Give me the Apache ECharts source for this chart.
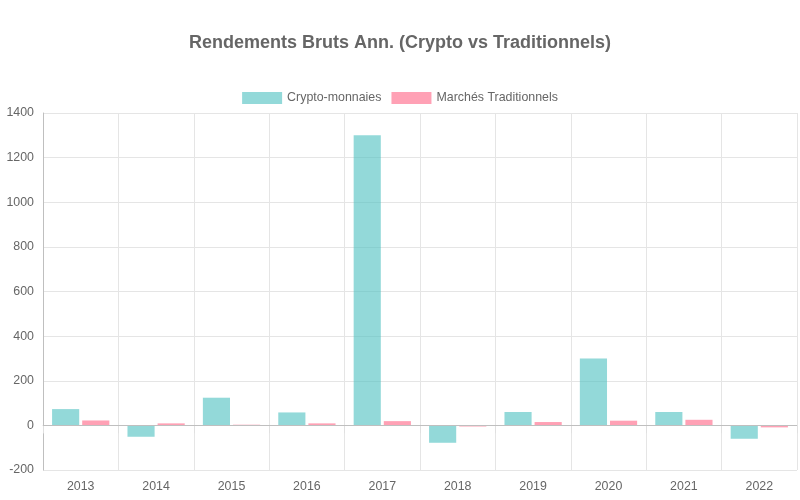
<!DOCTYPE html>
<html><head><meta charset="utf-8">
<script src="https://cdn.jsdelivr.net/npm/echarts@6/dist/echarts.min.js"></script>
<style>html,body{margin:0;padding:0;background:#fff}#c{width:800px;height:500px}</style>
</head><body><div id="c"></div>
<script>
const categories = ['2013','2014','2015','2016','2017','2018','2019','2020','2021','2022'];
const cryptoValues = [73, -51, 124, 58, 1300, -78, 60, 300, 60, -60];
const tradValues = [22, 9, 3, 9, 19, -5, 15, 21, 25, -9];
const seriesNames = ['Crypto-monnaies', 'Marchés Traditionnels'];
const titleText = 'Rendements Bruts Ann. (Crypto vs Traditionnels)';

const chart = echarts.init(document.getElementById('c'));
const font = 'Liberation Sans, Arial, Helvetica, sans-serif';
chart.setOption({
  animation: false,
  textStyle: { fontFamily: font },
  title: { text: titleText, left: 'center', top: 29,
    textStyle: { fontSize: 18, fontWeight: 'bold', color: '#666', fontFamily: font } },
  legend: { top: 87, left: 'center', itemWidth: 40, itemHeight: 12, itemGap: 10, icon: 'rect',
    textStyle: { color: '#666', fontSize: 12.4, fontFamily: font },
    data: seriesNames },
  grid: { left: 43, right: 3, top: 113, bottom: 30 },
  xAxis: { type: 'category', data: categories,
    axisLine: { show: true, lineStyle: { color: '#d9d9d9' } },
    axisTick: { show: true, length: 8, lineStyle: { color: '#e0e0e0' } },
    splitLine: { show: true, lineStyle: { color: '#e5e5e5' } },
    axisLabel: { color: '#666', fontSize: 12.4, margin: 11, fontFamily: font } },
  yAxis: { type: 'value', min: -200, max: 1400, interval: 200,
    axisLine: { show: true, lineStyle: { color: '#bfbfbf' } },
    axisTick: { show: false },
    splitLine: { lineStyle: { color: '#e5e5e5' } },
    axisLabel: { color: '#666', fontSize: 12.4, margin: 9, fontFamily: font,
      formatter: v => String(v) } },
  series: [
    { name: seriesNames[0], type: 'bar', data: cryptoValues, barWidth: '36%', barGap: '11%',
      itemStyle: { color: 'rgba(75,192,192,0.6)' },
      markLine: { silent: true, symbol: 'none', label: { show: false },
        lineStyle: { color: '#bfbfbf', type: 'solid', width: 1 }, data: [{ yAxis: 0 }] } },
    { name: seriesNames[1], type: 'bar', data: tradValues, barWidth: '36%',
      itemStyle: { color: 'rgba(255,99,132,0.6)' } }
  ]
});
</script></body></html>
